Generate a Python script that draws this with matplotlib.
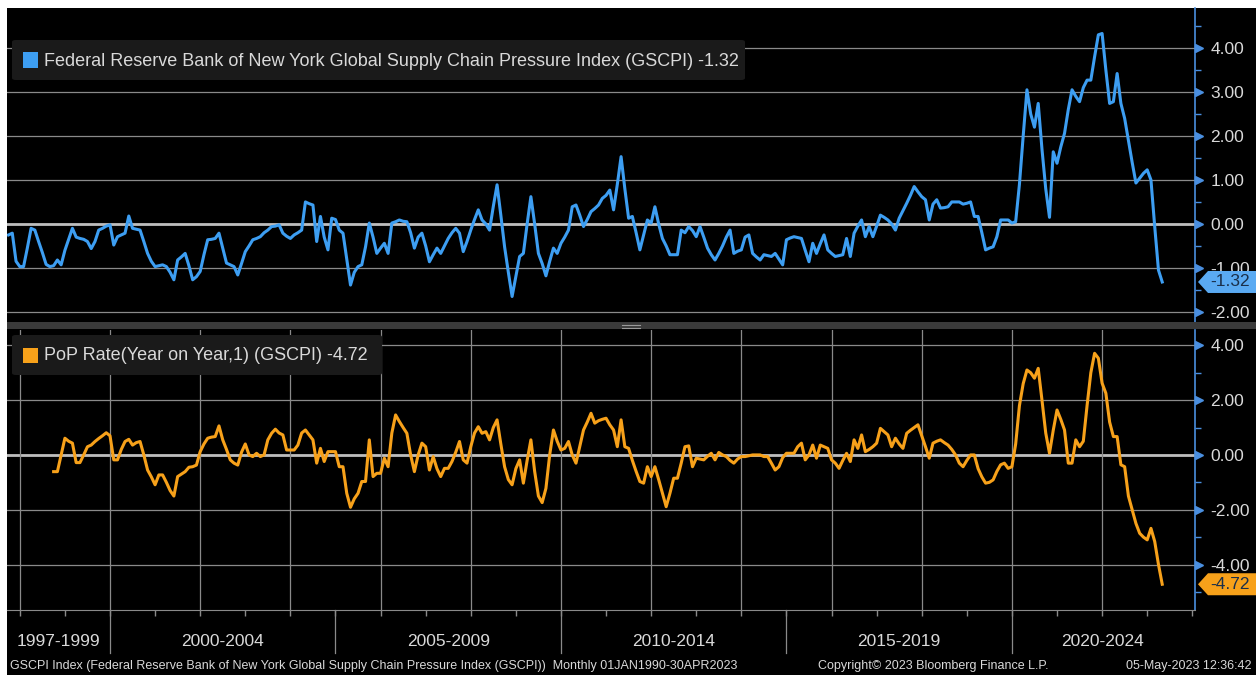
import numpy as np
import pandas as pd
import matplotlib
matplotlib.use('Agg')
import matplotlib.pyplot as plt
import matplotlib.transforms as mtransforms
from matplotlib.patches import Rectangle, FancyBboxPatch, Polygon

# GSCPI monthly readings, Sep 1997 - Apr 2023
gscpi = [
    -0.25, -0.21, -0.85, -0.97,
    -0.97, -0.55, -0.10, -0.14, -0.40, -0.65, -0.92, -0.97, -0.95, -0.82, -0.93, -0.60,
    -0.35, -0.10, -0.30, -0.33, -0.35, -0.40, -0.56, -0.40, -0.14, -0.10, -0.05, -0.02,
    -0.48, -0.29, -0.25, -0.21, 0.18, -0.10, -0.12, -0.14, -0.40, -0.67, -0.85, -0.97,
    -0.95, -0.93, -0.97, -1.10, -1.27, -0.82, -0.75, -0.67, -0.95, -1.27, -1.20, -1.08,
    -0.70, -0.36, -0.35, -0.33, -0.21, -0.55, -0.89, -0.93, -0.97, -1.16, -0.90, -0.63,
    -0.50, -0.36, -0.33, -0.29, -0.20, -0.14, -0.06, -0.05, -0.02, -0.21, -0.28, -0.33,
    -0.25, -0.20, -0.14, 0.50, 0.46, 0.43, -0.40, 0.17, -0.30, -0.59, 0.13, 0.10,
    -0.14, -0.21, -0.80, -1.39, -1.10, -0.97, -0.93, -0.52, 0.02, -0.30, -0.67, -0.55,
    -0.44, -0.67, 0.02, 0.05, 0.09, 0.06, 0.05, -0.20, -0.55, -0.30, -0.21, -0.50,
    -0.86, -0.70, -0.55, -0.67, -0.50, -0.33, -0.20, -0.10, -0.21, -0.63, -0.40, -0.14,
    0.10, 0.32, 0.09, 0.00, -0.14, 0.40, 0.89, 0.20, -0.52, -1.10, -1.65, -1.20,
    -0.74, -0.67, 0.00, 0.62, 0.00, -0.67, -0.90, -1.18, -0.85, -0.55, -0.67, -0.44,
    -0.30, -0.14, 0.39, 0.43, 0.20, -0.06, 0.10, 0.28, 0.35, 0.43, 0.58, 0.65,
    0.77, 0.32, 0.90, 1.53, 0.80, 0.13, 0.17, -0.20, -0.59, -0.25, 0.09, 0.02,
    0.39, 0.00, -0.33, -0.50, -0.70, -0.70, -0.70, -0.14, -0.20, -0.06, -0.15, -0.29,
    -0.06, -0.30, -0.55, -0.70, -0.82, -0.67, -0.50, -0.30, -0.14, -0.67, -0.62, -0.59,
    -0.30, -0.25, -0.67, -0.75, -0.82, -0.70, -0.72, -0.74, -0.67, -0.80, -0.93, -0.36,
    -0.32, -0.29, -0.31, -0.33, -0.60, -0.86, -0.44, -0.67, -0.45, -0.25, -0.59, -0.67,
    -0.74, -0.72, -0.70, -0.33, -0.74, -0.21, -0.05, 0.09, -0.29, -0.06, -0.29, -0.05,
    0.20, 0.15, 0.09, 0.00, -0.14, 0.13, 0.30, 0.47, 0.65, 0.85, 0.73, 0.62,
    0.55, 0.09, 0.45, 0.55, 0.36, 0.37, 0.39, 0.50, 0.50, 0.50, 0.45, 0.47,
    0.50, 0.17, 0.17, -0.20, -0.59, -0.55, -0.52, -0.29, 0.09, 0.09, 0.09, 0.02,
    0.05, 0.90, 2.00, 3.05, 2.50, 2.20, 2.74, 1.70, 0.80, 0.15, 1.64, 1.38,
    1.75, 2.06, 2.60, 3.05, 2.90, 2.78, 3.10, 3.27, 3.27, 3.80, 4.30, 4.33,
    3.50, 2.74, 2.78, 3.42, 2.74, 2.40, 1.90, 1.40, 0.93, 1.04, 1.15, 1.23,
    1.00, -0.06, -1.05, -1.32,
]

# year on year change, Sep 1998 - Apr 2023
yoy = [
    -0.61, -0.61, 0.00, 0.61,
    0.50, 0.43, -0.28, -0.28, 0.00, 0.30, 0.36, 0.49, 0.60, 0.70, 0.81, 0.70,
    -0.18, -0.18, 0.20, 0.49, 0.57, 0.36, 0.45, 0.49, 0.00, -0.55, -0.80, -1.09,
    -0.73, -0.73, -1.00, -1.30, -1.50, -0.79, -0.70, -0.61, -0.45, -0.43, -0.37, 0.12,
    0.40, 0.61, 0.65, 0.67, 1.06, 0.55, 0.20, -0.18, -0.30, -0.37, 0.10, 0.40,
    0.00, -0.06, 0.06, -0.06, 0.00, 0.55, 0.79, 0.94, 0.80, 0.73, 0.18, 0.18,
    0.18, 0.36, 0.80, 0.91, 0.73, 0.55, -0.30, 0.24, -0.24, 0.12, 0.12, 0.12,
    -0.43, -0.43, -1.40, -1.91, -1.60, -1.40, -0.97, -0.97, 0.55, -0.79, -0.67, -0.67,
    -0.12, -0.43, 0.80, 1.46, 1.22, 1.00, 0.79, 0.00, -0.61, 0.00, 0.43, 0.30,
    -0.55, -0.06, -0.50, -0.79, -0.49, -0.49, -0.24, 0.10, 0.49, -0.18, -0.30, 0.30,
    0.80, 1.03, 0.79, 0.85, 0.55, 1.00, 1.28, 0.40, -0.43, -0.90, -1.09, -0.50,
    -0.18, -1.03, -0.20, 0.55, -0.60, -1.50, -1.74, -1.22, 0.00, 0.91, 0.50, 0.18,
    0.24, 0.49, 0.00, -0.30, 0.30, 0.91, 1.20, 1.52, 1.16, 1.25, 1.30, 1.34,
    1.10, 0.91, 0.30, 1.28, 0.30, 0.24, -0.20, -0.60, -0.97, -1.03, -0.43, -0.79,
    -0.43, -0.90, -1.40, -1.89, -1.40, -0.85, -0.85, -0.30, 0.30, 0.33, -0.43, -0.12,
    -0.15, -0.18, -0.05, 0.06, -0.18, 0.09, 0.00, -0.06, -0.20, -0.30, -0.15, -0.06,
    -0.06, -0.03, 0.00, 0.00, 0.00, -0.06, -0.06, -0.30, -0.55, -0.43, -0.10, 0.06,
    0.06, 0.06, 0.30, 0.43, -0.18, 0.00, 0.36, -0.12, 0.36, 0.30, 0.24, -0.18,
    -0.30, -0.49, -0.20, 0.06, -0.24, 0.55, 0.24, 0.73, 0.12, 0.20, 0.30, 0.43,
    0.97, 0.85, 0.73, 0.30, 0.61, 0.40, 0.24, 0.79, 0.90, 1.00, 1.10, 0.70,
    0.30, -0.12, 0.43, 0.50, 0.55, 0.45, 0.36, 0.20, 0.00, -0.30, -0.43, -0.20,
    0.00, 0.00, -0.50, -0.80, -1.03, -1.00, -0.91, -0.60, -0.36, -0.30, -0.49, -0.43,
    0.40, 1.80, 2.60, 3.10, 3.00, 2.80, 3.16, 2.00, 0.80, 0.06, 0.90, 1.64,
    1.30, 0.91, -0.30, -0.30, 0.55, 0.30, 0.50, 1.80, 3.00, 3.71, 3.53, 2.62,
    2.25, 1.20, 0.67, 0.67, -0.36, -0.43, -1.50, -2.00, -2.50, -2.86, -3.00, -3.10,
    -2.68, -3.16, -4.00, -4.72,
]

gscpi_start = '1997-09'
yoy_start = '1998-09'

top_ticks = [-2, -1, 0, 1, 2, 3, 4]
top_minor = [-1.5, -0.5, 0.5, 1.5, 2.5, 3.5, 4.5]
bot_ticks = [-4, -2, 0, 2, 4]
bot_minor = [-5, -3, -1, 1, 3]
periods = ['1997-1999', '2000-2004', '2005-2009', '2010-2014', '2015-2019', '2020-2024']
period_edges = [1997, 2000, 2005, 2010, 2015, 2020, 2025]

top_name = 'Federal Reserve Bank of New York Global Supply Chain Pressure Index (GSCPI)'
bot_name = 'PoP Rate(Year on Year,1) (GSCPI)'
footer_left = ('GSCPI Index (Federal Reserve Bank of New York Global Supply Chain Pressure '
               'Index (GSCPI))  Monthly 01JAN1990-30APR2023')
footer_mid = 'Copyright\u00a9 2023 Bloomberg Finance L.P.'
footer_right = '05-May-2023 12:36:42'

# colours
BLUE = '#3d9ef2'
ORANGE = '#f7a11a'
GRID = '#8a8a8a'
TXT = '#d9d9d9'
AXBLUE = '#4a8fe0'

plt.rcParams['font.family'] = ['Liberation Sans', 'DejaVu Sans']
plt.rcParams['axes.unicode_minus'] = False

W, H = 1256, 675


def fx(px):
    return px / W


def fy(py):
    return 1 - py / H


def month_x(start, n):
    p = pd.period_range(start, periods=n, freq='M')
    return np.asarray(p.year + p.month / 12.0, dtype=float)


x_top = month_x(gscpi_start, len(gscpi))
x_bot = month_x(yoy_start, len(yoy))

fig = plt.figure(figsize=(W / 100, H / 100), dpi=100, facecolor='white')
fig.add_artist(Rectangle((fx(7), 0), 1 - fx(7), fy(8), transform=fig.transFigure,
                         facecolor='black', edgecolor='none', zorder=-10))

ax_top = fig.add_axes([fx(7), fy(322), fx(1195) - fx(7), (322 - 8) / H])
ax_bot = fig.add_axes([fx(7), fy(610), fx(1195) - fx(7), (610 - 330) / H])

xlim = (1997.716, 2024.06)
ax_top.set_ylim(-2.23, 4.91)
ax_bot.set_ylim(-5.66, 4.56)

for ax, ticks, minor in [(ax_top, top_ticks, top_minor), (ax_bot, bot_ticks, bot_minor)]:
    ax.set_facecolor('black')
    ax.set_xlim(*xlim)
    for s in ['top', 'left']:
        ax.spines[s].set_visible(False)
    ax.spines['right'].set_color(AXBLUE)
    ax.spines['right'].set_linewidth(1.2)
    ax.yaxis.tick_right()
    ax.set_yticks(ticks)
    ax.set_yticklabels(['%.2f' % t for t in ticks])
    ax.set_yticks(minor, minor=True)
    ax.tick_params(axis='y', which='major', length=0, pad=11, labelsize=12.5, labelcolor=TXT)
    ax.tick_params(axis='y', which='minor', length=4, width=1, color=AXBLUE)
    for t in ticks:
        ax.axhline(t, color=GRID, lw=0.9, zorder=1)
    ax.axhline(0, color='#bdbdbd', lw=2.0, zorder=1)
    tr = mtransforms.blended_transform_factory(ax.transAxes, ax.transData)
    ax.plot([1.0035] * len(ticks), ticks, transform=tr, marker='>', ms=5.5,
            color=AXBLUE, ls='none', clip_on=False, zorder=5)

ax_top.spines['bottom'].set_visible(False)
ax_top.set_xticks([])
ax_bot.spines['bottom'].set_color(GRID)
ax_bot.set_xticks(range(1998, 2025))
ax_bot.tick_params(axis='x', length=4, width=1, color=GRID, labelbottom=False)
for yr in range(1998, 2024, 2):
    ax_bot.axvline(yr, color=GRID, lw=0.9, zorder=1)

ax_top.plot(x_top, gscpi, color=BLUE, lw=2.2, solid_joinstyle='round', zorder=3)
ax_bot.plot(x_bot, yoy, color=ORANGE, lw=2.2, solid_joinstyle='round', zorder=3)

# period labels and separators under the bottom panel
trx = mtransforms.blended_transform_factory(ax_bot.transData, fig.transFigure)
for i, lab in enumerate(periods):
    lo = max(period_edges[i], xlim[0])
    hi = min(period_edges[i + 1] - 1, xlim[1]) if i == len(periods) - 1 else period_edges[i + 1]
    ax_bot.text((lo + hi) / 2, fy(642), lab, transform=trx, ha='center', va='center',
                fontsize=12.5, color=TXT)
    if i > 0:
        ax_bot.plot([period_edges[i]] * 2, [fy(610), fy(653)], transform=trx,
                    color=GRID, lw=0.9, clip_on=False)


def value_tag(ax, val, color):
    lo, hi = ax.get_ylim()
    hpx = ax.get_position().height * H
    dv = 11 * (hi - lo) / hpx
    tr = mtransforms.blended_transform_factory(fig.transFigure, ax.transData)
    pts = [(fx(1198), val), (fx(1208), val + dv), (fx(1256), val + dv),
           (fx(1256), val - dv), (fx(1208), val - dv)]
    ax.add_patch(Polygon(pts, closed=True, transform=tr, facecolor=color,
                         edgecolor='none', clip_on=False, zorder=6))
    ax.text(fx(1230), val, '%.2f' % val, transform=tr, ha='center', va='center',
            fontsize=12.5, color='#1a2f4a', clip_on=False, zorder=7)


value_tag(ax_top, gscpi[-1], '#5aaaf2')
value_tag(ax_bot, yoy[-1], ORANGE)

# separator between panels
fig.add_artist(Rectangle((fx(7), fy(329)), 1 - fx(7), 7 / H, transform=fig.transFigure,
                         facecolor='#3a3a3a', edgecolor='none'))
for yy in (325, 327.5):
    fig.add_artist(plt.Line2D([fx(622), fx(640)], [fy(yy)] * 2, transform=fig.transFigure,
                              color='#9a9a9a', lw=0.8))


def legend_box(x0, y0, x1, y1, color, text):
    fig.add_artist(FancyBboxPatch((fx(x0), fy(y1)), fx(x1) - fx(x0), (y1 - y0) / H,
                                  boxstyle='round,pad=0,rounding_size=0.003',
                                  transform=fig.transFigure, facecolor='#1a1a1a',
                                  edgecolor='none', zorder=8))
    cy = (y0 + y1) / 2
    fig.add_artist(Rectangle((fx(23), fy(cy + 7.5)), 15 / W, 15 / H, transform=fig.transFigure,
                             facecolor=color, edgecolor='none', zorder=9))
    fig.text(fx(44), fy(cy + 1), text, ha='left', va='center', fontsize=13,
             color=TXT, zorder=9)


legend_box(12, 40, 745, 80, BLUE, '%s %.2f' % (top_name, gscpi[-1]))
legend_box(12, 335, 382, 375, ORANGE, '%s %.2f' % (bot_name, yoy[-1]))

fig.text(fx(10), fy(666), footer_left, ha='left', va='center', fontsize=9, color=TXT)
fig.text(fx(818), fy(666), footer_mid, ha='left', va='center', fontsize=9, color=TXT)
fig.text(fx(1252), fy(666), footer_right, ha='right', va='center', fontsize=9, color=TXT)

fig.savefig('out.png', dpi=100, facecolor='white')
